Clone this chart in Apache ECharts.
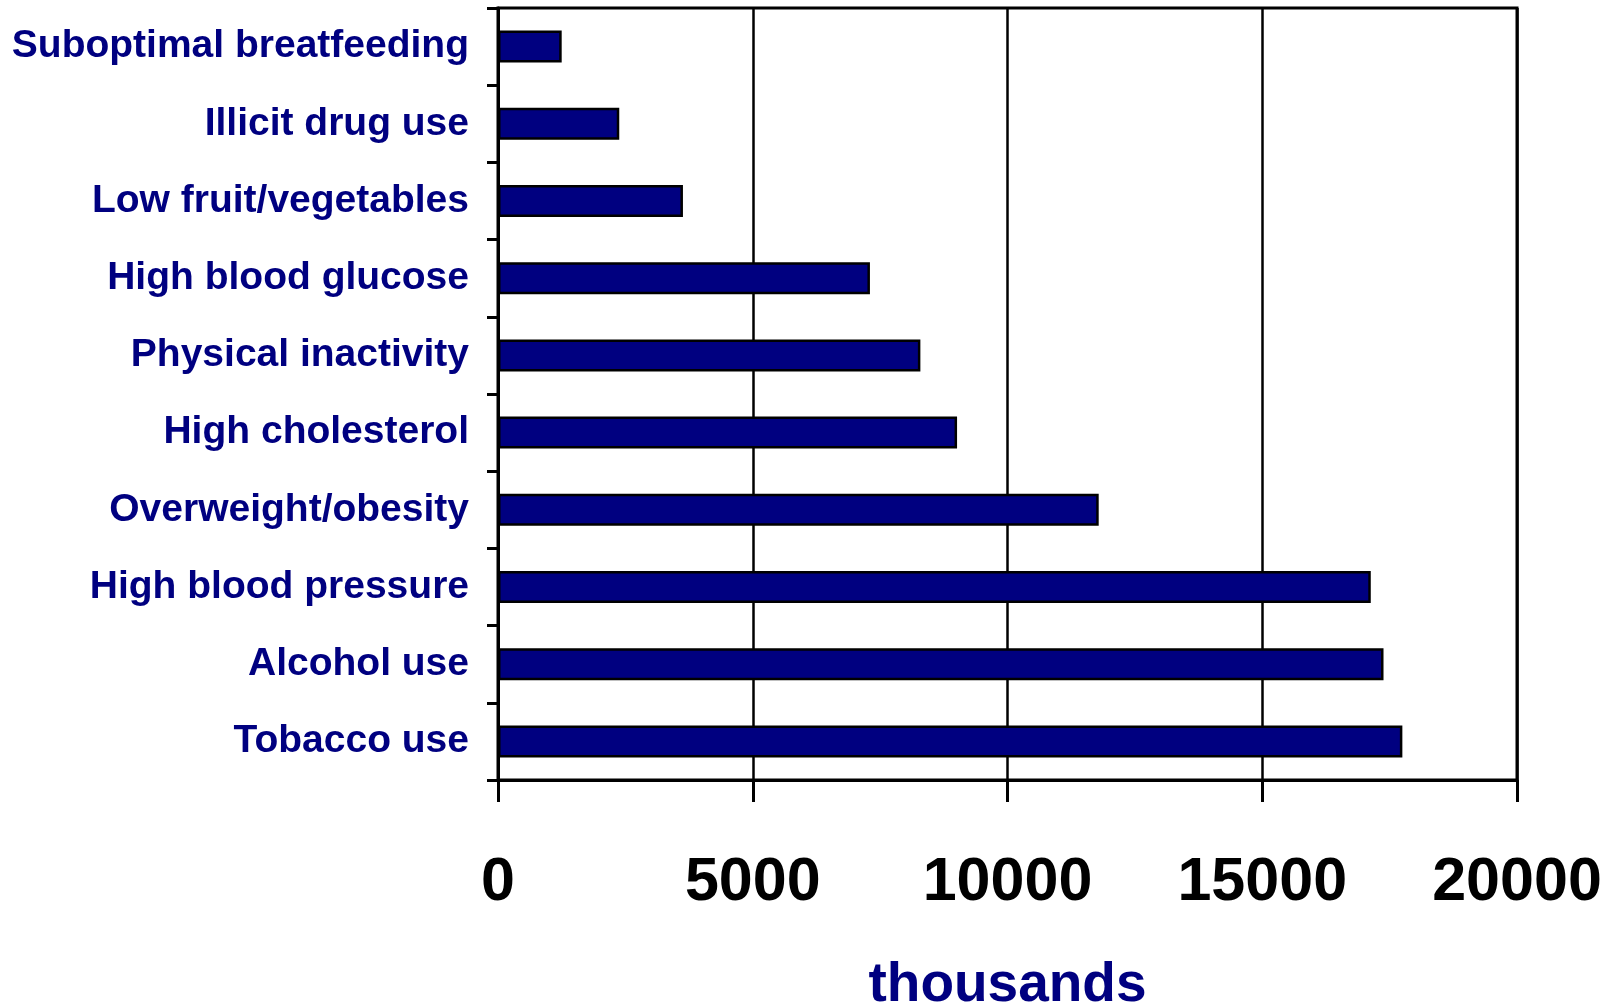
<!DOCTYPE html>
<html>
<head>
<meta charset="utf-8">
<title>Risk factors</title>
<script src="https://cdn.jsdelivr.net/npm/echarts@6/dist/echarts.min.js"></script>
<style>
  html, body { margin: 0; padding: 0; background: #fff; }
  #chart { width: 1610px; height: 1004px; }
</style>
</head>
<body>
<div id="chart"></div>
<script>
// Risk factors, listed top to bottom
const categories = [
  'Suboptimal breatfeeding',
  'Illicit drug use',
  'Low fruit/vegetables',
  'High blood glucose',
  'Physical inactivity',
  'High cholesterol',
  'Overweight/obesity',
  'High blood pressure',
  'Alcohol use',
  'Tobacco use'
];
// Values in thousands
const values = [1250, 2380, 3630, 7300, 8290, 9010, 11790, 17130, 17380, 17750];
const xTicks = { min: 0, max: 20000, interval: 5000 };
const axisTitle = 'thousands';

const navy = '#000080';
const font = '"Liberation Sans", Arial, sans-serif';

const chart = echarts.init(document.getElementById('chart'), null, { renderer: 'canvas' });
chart.setOption({
  animation: false,
  backgroundColor: '#fff',
  grid: {
    left: 498, right: 93, top: 8, bottom: 224,
    outerBoundsMode: 'none',
    containLabel: false,
    show: true, borderColor: '#000', borderWidth: 3, backgroundColor: 'transparent'
  },
  xAxis: {
    type: 'value',
    min: xTicks.min, max: xTicks.max, interval: xTicks.interval,
    axisLine: { show: true, lineStyle: { color: '#000', width: 3 } },
    axisTick: { show: true, length: 22, lineStyle: { color: '#000', width: 3 } },
    splitLine: { show: true, lineStyle: { color: '#000', width: 2.5 } },
    axisLabel: {
      color: '#000', fontFamily: font, fontWeight: 'bold', fontSize: 61,
      margin: 73,
      formatter: v => String(v)
    },
    name: axisTitle,
    nameLocation: 'middle',
    nameGap: 178,
    nameTextStyle: { color: navy, fontFamily: font, fontWeight: 'bold', fontSize: 55 }
  },
  yAxis: {
    type: 'category',
    data: categories,
    inverse: true,
    axisLine: { show: true, lineStyle: { color: '#000', width: 3 } },
    axisTick: { show: true, length: 11, lineStyle: { color: '#000', width: 3 } },
    splitLine: { show: false },
    axisLabel: {
      color: navy, fontFamily: font, fontWeight: 'bold', fontSize: 39,
      margin: 29
    }
  },
  series: [{
    type: 'bar',
    data: values,
    barWidth: 32,
    itemStyle: { color: navy, borderColor: '#000', borderWidth: 2.5 }
  }]
});
</script>
</body>
</html>
